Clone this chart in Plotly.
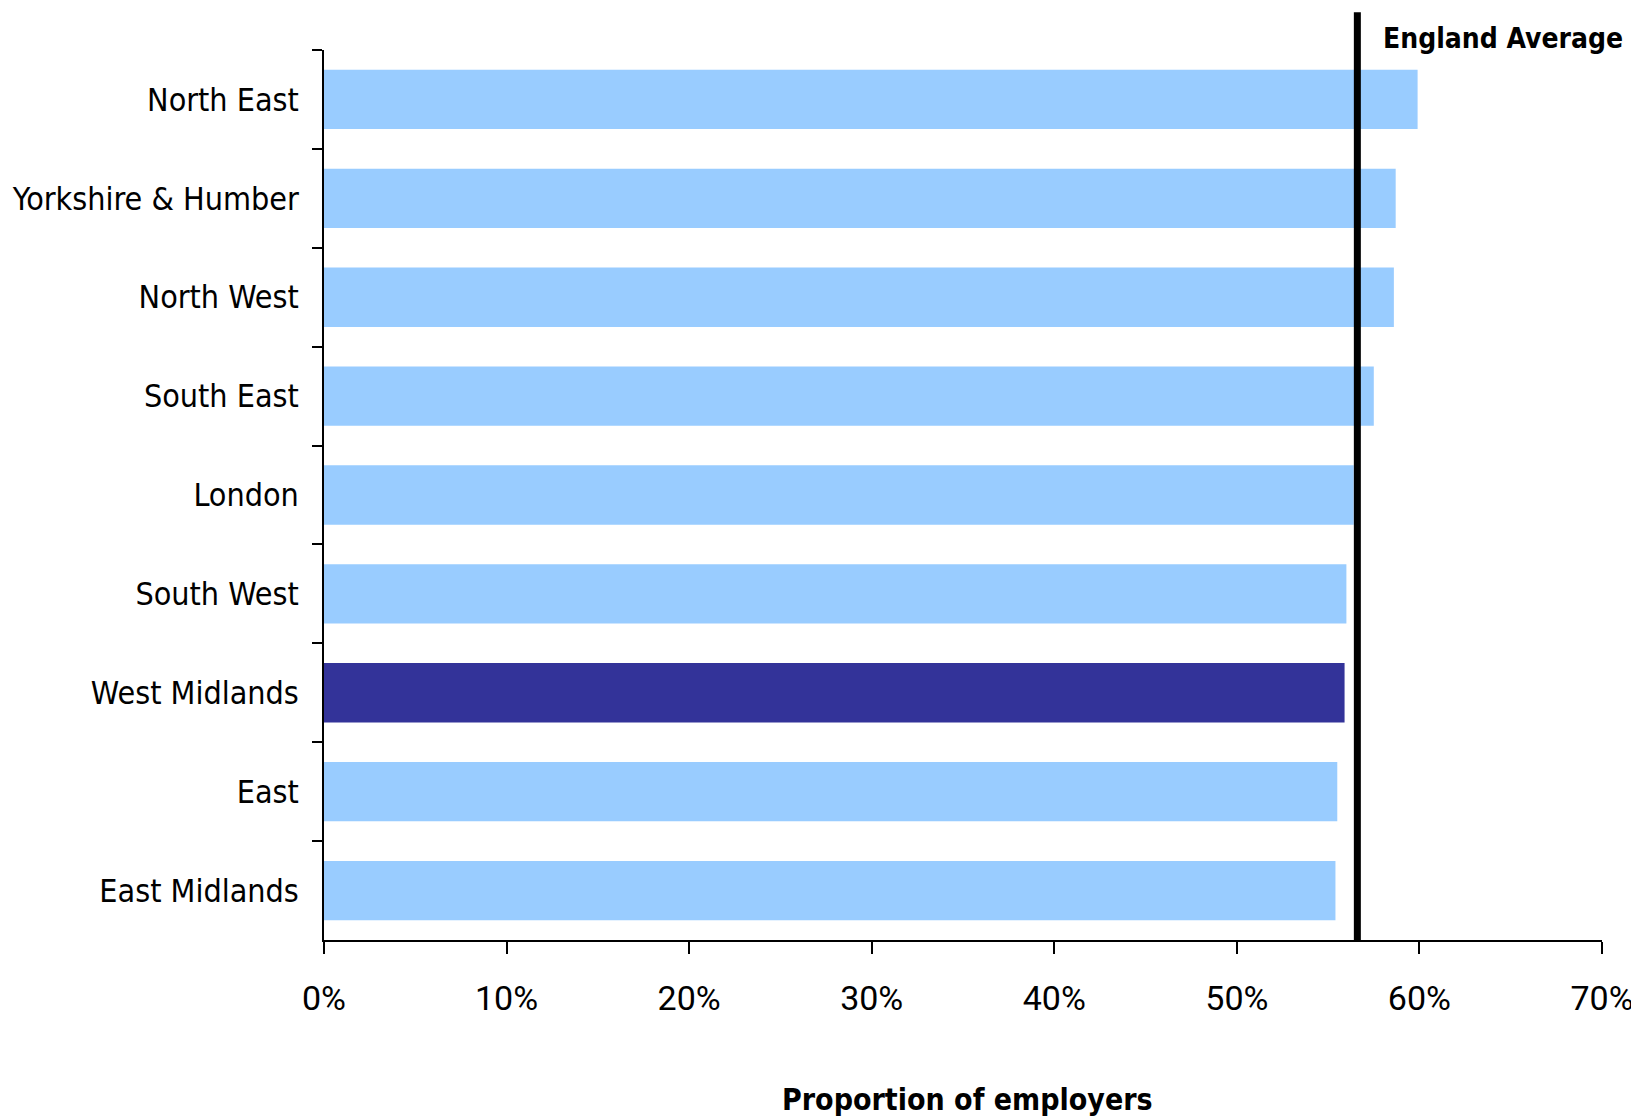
import plotly.graph_objects as go

regions = ["North East", "Yorkshire & Humber", "North West", "South East", "London",
           "South West", "West Midlands", "East", "East Midlands"]
values = [59.9, 58.7, 58.6, 57.5, 56.4, 56.0, 55.9, 55.5, 55.4]
highlight = "West Midlands"
england_average = 56.6
x_ticks = [0, 10, 20, 30, 40, 50, 60, 70]
x_tick_labels = [f"{t}%" for t in x_ticks]

light = "#99CCFF"
dark = "#333399"
colors = [dark if r == highlight else light for r in regions]

fig = go.Figure(go.Bar(
    x=values, y=regions, orientation="h",
    marker=dict(color=colors, line=dict(width=0)),
    hoverinfo="x+y",
))

# page has an 8px body margin; compensate so the plot lands where the reference has it
W, H = 1631, 1111
L, T = 316, 42
PW, PH = 1278.2, 890
R = W - L - PW
B = H - T - PH

fig.update_layout(
    width=W, height=H,
    margin=dict(l=L, r=R, t=T, b=B, pad=0),
    paper_bgcolor="white", plot_bgcolor="white",
    bargap=0.4,
    showlegend=False,
    xaxis=dict(
        range=[0, 70], tickvals=x_ticks, ticktext=x_tick_labels,
        showgrid=False, zeroline=False,
        showline=True, linecolor="black", linewidth=1.5,
        ticks="outside", ticklen=12, tickwidth=1.5, tickcolor="black",
        tickfont=dict(family="Roboto, Liberation Sans", size=34, color="black"),
        ticklabelstandoff=15,
        ticklabeloverflow="allow",
        automargin=False,
        fixedrange=True,
    ),
    yaxis=dict(
        autorange="reversed",
        showgrid=False, zeroline=False,
        showline=True, linecolor="black", linewidth=1.5,
        ticks="outside", ticklen=10, tickwidth=1.5, tickcolor="black",
        tickson="boundaries",
        tickfont=dict(family="DejaVu Sans Condensed, DejaVu Sans", size=32, color="black"),
        ticklabelstandoff=17,
        automargin=False,
        fixedrange=True,
    ),
)

# England average line extends ~38px above the plot area
fig.add_shape(type="line", xref="x", yref="paper",
              x0=england_average, x1=england_average, y0=0, y1=1 + 37.7 / PH,
              line=dict(color="black", width=7))

fig.add_annotation(xref="x", yref="paper", x=57.9, y=1 + 11.5 / PH,
                   xanchor="left", yanchor="middle", showarrow=False,
                   text="<b>England Average</b>",
                   font=dict(family="DejaVu Sans Condensed, DejaVu Sans", size=28, color="black"))

fig.add_annotation(xref="paper", yref="paper", x=(968 - 324.3) / PW, y=-159 / PH,
                   xanchor="center", yanchor="middle", showarrow=False,
                   text="<b>Proportion of employers</b>",
                   font=dict(family="DejaVu Sans Condensed, DejaVu Sans", size=30, color="black"))

fig.write_html("out.html")
